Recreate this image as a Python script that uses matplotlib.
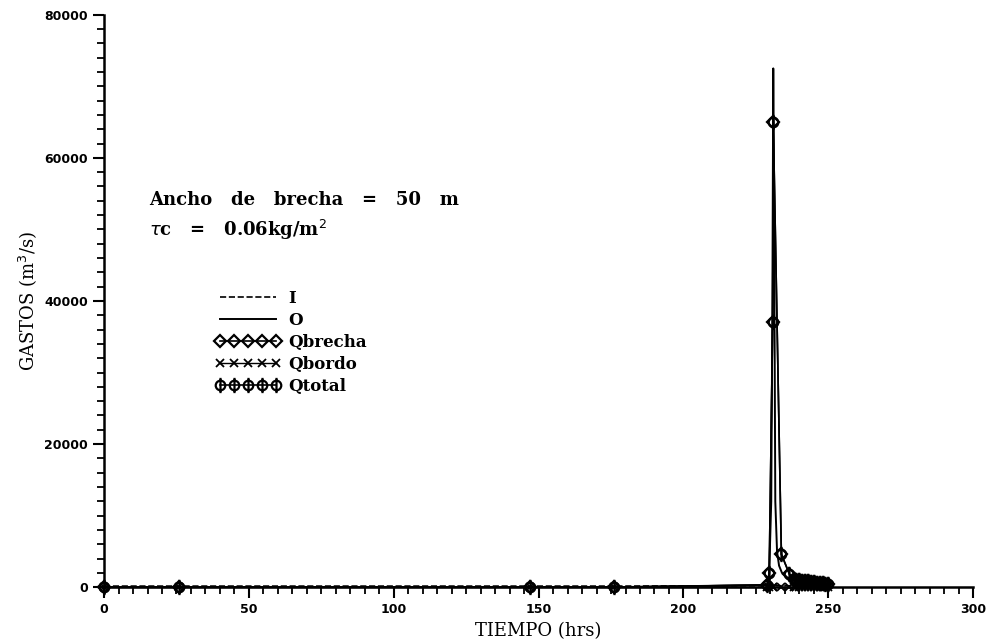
import numpy as np
import matplotlib.pyplot as plt
from matplotlib.path import Path
from matplotlib.ticker import MultipleLocator

## datos leidos de la grafica
# hidrograma de entrada y salida (linea continua, sin marcas)
t_vaso = [0, 26, 147, 176, 229, 229.6, 230.3, 230.7, 231.0, 231.3, 231.7, 232.3,
          233.0, 234.0, 236.0, 238.0, 240.0, 245.0, 250.0]
gasto_I = [150, 150, 150, 150, 200, 200, 200, 200, 200, 200, 200, 200,
           200, 200, 200, 200, 200, 200, 200]
gasto_O = [0, 0, 0, 0, 300, 2000, 12000, 40000, 72500, 50000, 12000, 5000,
           3000, 2000, 1300, 1000, 900, 650, 450]

# gastos por la brecha y por el bordo (puntos con marca)
t_brecha = [0, 26, 147, 176, 229, 229.6, 230.8, 231.0, 233.8, 236.6, 238, 239,
            240, 241, 242, 243, 244, 245, 246, 247, 248, 249, 250]
q_brecha = [0, 0, 0, 0, 300, 2000, 37000, 65000, 4600, 1800, 1200, 1000,
            950, 900, 850, 800, 750, 700, 650, 600, 550, 500, 450]
q_bordo = [0] * len(t_brecha)
q_total = [q_brecha[i] + q_bordo[i] for i in range(len(t_brecha))]

# marcador circulo con linea vertical
circ = Path.unit_circle()
linea = Path([[0, -1.6], [0, 1.6]], [Path.MOVETO, Path.LINETO])
marca_total = Path.make_compound_path(circ, linea)

fig = plt.figure(figsize=(9.91, 6.41), dpi=100)
ax = fig.add_axes([0.105, 0.084, 0.877, 0.893])

ax.plot(t_vaso, gasto_I, 'k--', lw=1.2, label='I')
ax.plot(t_vaso, gasto_O, 'k-', lw=1.4, label='O')
ax.plot(t_brecha, q_brecha, 'k-', lw=1.2, marker='D', ms=6, mfc='none', mew=1.6,
        label='Qbrecha', clip_on=False)
ax.plot(t_brecha, q_bordo, 'k-', lw=1.0, marker='x', ms=6, mew=1.3,
        label='Qbordo', clip_on=False)
ax.plot(t_brecha, q_total, 'k-', lw=1.2, marker=marca_total, ms=11, mfc='none', mew=1.6,
        label='Qtotal', clip_on=False)

ax.set_xlim(0, 300)
ax.set_ylim(0, 80000)
ax.spines['top'].set_visible(False)
ax.spines['right'].set_visible(False)
ax.spines['left'].set_linewidth(1.8)
ax.spines['bottom'].set_linewidth(1.8)

ax.xaxis.set_major_locator(MultipleLocator(50))
ax.xaxis.set_minor_locator(MultipleLocator(5))
ax.yaxis.set_major_locator(MultipleLocator(20000))
ax.yaxis.set_minor_locator(MultipleLocator(2000))
ax.tick_params(which='major', length=8, width=1.5, labelsize=9)
ax.tick_params(which='minor', length=5, width=1.3)
for lab in ax.get_xticklabels() + ax.get_yticklabels():
    lab.set_fontweight('bold')
    lab.set_family('DejaVu Sans')

ax.set_xlabel('TIEMPO (hrs)', family='DejaVu Serif', fontsize=13, labelpad=4)
ax.set_ylabel('GASTOS (m$^3$/s)', family='DejaVu Serif', fontsize=13, labelpad=4)

ax.text(0.052, 0.668, 'Ancho   de   brecha   =   50   m', transform=ax.transAxes,
        family='DejaVu Serif', fontweight='bold', fontsize=13)
ax.text(0.052, 0.614, r'$\tau$c   =   0.06kg/m$^2$', transform=ax.transAxes,
        family='DejaVu Serif', fontweight='bold', fontsize=13)

leg = ax.legend(loc='upper left', bbox_to_anchor=(0.11, 0.545), frameon=False,
                numpoints=5, handlelength=4, handletextpad=0.4, labelspacing=0.3,
                prop={'family': 'DejaVu Serif', 'weight': 'bold', 'size': 12})

fig.savefig('out.png', dpi=100)
